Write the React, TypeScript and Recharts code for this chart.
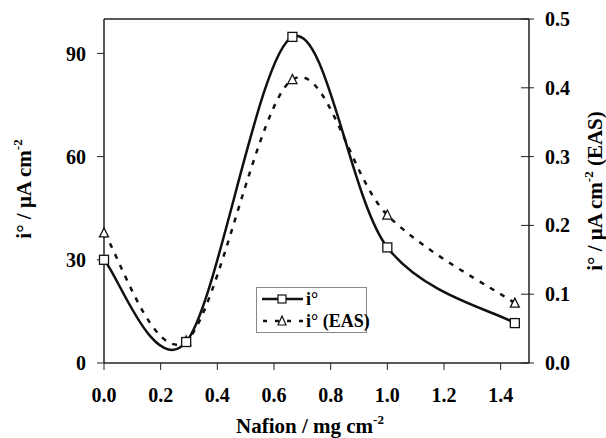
import React from "react";
import {
  ComposedChart,
  Line,
  XAxis,
  YAxis,
  Legend,
  Label,
  ReferenceLine,
} from "recharts";

// Nafion loading (mg cm-2)
const nafion = [0, 0.29, 0.665, 1.0, 1.45];
// exchange current density, uA cm-2 (left axis)
const ioValues = [30, 6.1, 94.8, 33.6, 11.6];
// exchange current density normalised to EAS (right axis)
const ioEas = [0.189, 0.032, 0.412, 0.215, 0.087];

const xTicks = [0, 0.2, 0.4, 0.6, 0.8, 1.0, 1.2, 1.4];
const leftTicks = [0, 30, 60, 90];
const rightTicks = [0, 0.1, 0.2, 0.3, 0.4, 0.5];

const data = nafion.map((x, i) => ({ x, io: ioValues[i], eas: ioEas[i] }));

const FONT = "Liberation Serif";
const AXIS = "#222";

// Excel-like smoothed line (Catmull-Rom as cubic beziers)
function excelCurve(context: any) {
  let pts: number[][] = [];
  return {
    areaStart() {},
    areaEnd() {},
    lineStart() {
      pts = [];
    },
    point(x: number, y: number) {
      pts.push([+x, +y]);
    },
    lineEnd() {
      const n = pts.length;
      if (!n) return;
      context.moveTo(pts[0][0], pts[0][1]);
      for (let i = 0; i < n - 1; i++) {
        const p0 = pts[Math.max(i - 1, 0)];
        const p1 = pts[i];
        const p2 = pts[i + 1];
        const p3 = pts[Math.min(i + 2, n - 1)];
        context.bezierCurveTo(
          p1[0] + (p2[0] - p0[0]) / 6,
          p1[1] + (p2[1] - p0[1]) / 6,
          p2[0] - (p3[0] - p1[0]) / 6,
          p2[1] - (p3[1] - p1[1]) / 6,
          p2[0],
          p2[1]
        );
      }
    },
  };
}

const SquareDot = (p: any) => (
  <rect
    key={`sq-${p.index}`}
    x={p.cx - 4.5}
    y={p.cy - 4.5}
    width={9}
    height={9}
    fill="#fff"
    stroke="#111"
    strokeWidth={1.3}
  />
);

const TriDot = (p: any) => (
  <polygon
    key={`tr-${p.index}`}
    points={`${p.cx},${p.cy - 5} ${p.cx - 4.5},${p.cy + 4} ${p.cx + 4.5},${p.cy + 4}`}
    fill="#fff"
    stroke="#111"
    strokeWidth={1.3}
  />
);

const tickStyle = { fontSize: 20, fontWeight: "bold", fill: "#000", fontFamily: FONT };

const RightTick = (props: any) => {
  const { x, y, payload } = props;
  return (
    <g>
      <line x1={x - 24} x2={x - 11} y1={y} y2={y} stroke={AXIS} strokeWidth={1} />
      <text x={x} y={y} dy="0.35em" textAnchor="start" {...tickStyle}>
        {Number(payload.value).toFixed(1)}
      </text>
    </g>
  );
};

const titleProps = {
  fontSize: 21,
  fontWeight: "bold" as const,
  fill: "#000",
  fontFamily: FONT,
  textAnchor: "middle" as const,
};

const LeftTitle = ({ viewBox }: any) => {
  const cx = viewBox.x + 24;
  const cy = viewBox.y + 170;
  return (
    <text x={cx} y={cy} dy="0.35em" transform={`rotate(-90, ${cx}, ${cy})`} {...titleProps}>
      i° / μA cm<tspan dy={-9} fontSize={13}>-2</tspan>
    </text>
  );
};

const RightTitle = ({ viewBox }: any) => {
  const cx = viewBox.x + 66;
  const cy = viewBox.y + 172;
  return (
    <text x={cx} y={cy} dy="0.35em" transform={`rotate(-90, ${cx}, ${cy})`} {...titleProps}>
      i° / μA cm<tspan dy={-9} fontSize={13}>-2</tspan>
      <tspan dy={9}> (EAS)</tspan>
    </text>
  );
};

const BottomTitle = ({ viewBox }: any) => (
  <text x={viewBox.x + 206} y={viewBox.y + 70} {...titleProps}>
    Nafion / mg cm<tspan dy={-9} fontSize={13}>-2</tspan>
  </text>
);

const LegendBox = () => (
  <div
    style={{
      width: 111,
      height: 46,
      border: "1px solid #888",
      background: "#fff",
      boxSizing: "border-box",
    }}
  >
    <svg width={109} height={44} style={{ display: "block", overflow: "visible" }}>
      <line x1={5} x2={46} y1={11} y2={11} stroke="#111" strokeWidth={2.5} />
      <rect x={21} y={7} width={8} height={8} fill="#fff" stroke="#111" strokeWidth={1.2} />
      <text x={49} y={17} fontSize={18} fontWeight="bold" fontFamily={FONT}>
        i°
      </text>
      <line
        x1={6}
        x2={46}
        y1={33}
        y2={33}
        stroke="#111"
        strokeWidth={2.5}
        strokeDasharray="4 8"
      />
      <polygon points="25,28 21,37 29,37" fill="#fff" stroke="#111" strokeWidth={1.2} />
      <text x={49} y={39} fontSize={18} fontWeight="bold" fontFamily={FONT}>
        i° (EAS)
      </text>
    </svg>
  </div>
);

export default function App() {
  return (
    <div style={{ position: "absolute", left: 0, top: 0, background: "#fff" }}>
      <ComposedChart
        width={606}
        height={438}
        data={data}
        margin={{ top: 19, right: 0, bottom: 0, left: 0 }}
      >
        <XAxis
          dataKey="x"
          type="number"
          domain={[0, 1.5]}
          ticks={xTicks}
          tickFormatter={(v: number) => v.toFixed(1)}
          height={75}
          tickSize={7}
          tickMargin={18}
          tick={tickStyle}
          stroke={AXIS}
          strokeWidth={1.5}
          tickLine={{ stroke: AXIS, strokeWidth: 1 }}
        >
          <Label content={BottomTitle} />
        </XAxis>
        <YAxis
          yAxisId="left"
          domain={[0, 100]}
          ticks={leftTicks}
          width={104}
          tickSize={7}
          tickMargin={11}
          tick={tickStyle}
          stroke={AXIS}
          strokeWidth={1.5}
          tickLine={{ stroke: AXIS, strokeWidth: 1 }}
        >
          <Label content={LeftTitle} />
        </YAxis>
        <YAxis
          yAxisId="right"
          orientation="right"
          domain={[0, 0.5]}
          ticks={rightTicks}
          width={77}
          tickSize={6}
          tickMargin={10}
          tick={RightTick}
          tickLine={false}
          stroke={AXIS}
          strokeWidth={1.5}
        >
          <Label content={RightTitle} />
        </YAxis>
        <ReferenceLine yAxisId="left" y={100} stroke={AXIS} strokeWidth={1.5} />
        <Legend
          layout="vertical"
          align="center"
          verticalAlign="middle"
          content={LegendBox}
          wrapperStyle={{ position: "absolute", left: 256, top: 287, width: 111, height: 46 }}
        />
        <Line
          yAxisId="right"
          dataKey="eas"
          type={excelCurve as any}
          stroke="#111"
          strokeWidth={2.5}
          strokeDasharray="5 7"
          dot={TriDot}
          activeDot={false}
          isAnimationActive={false}
        />
        <Line
          yAxisId="left"
          dataKey="io"
          type={excelCurve as any}
          stroke="#111"
          strokeWidth={2.5}
          dot={SquareDot}
          activeDot={false}
          isAnimationActive={false}
        />
      </ComposedChart>
    </div>
  );
}
